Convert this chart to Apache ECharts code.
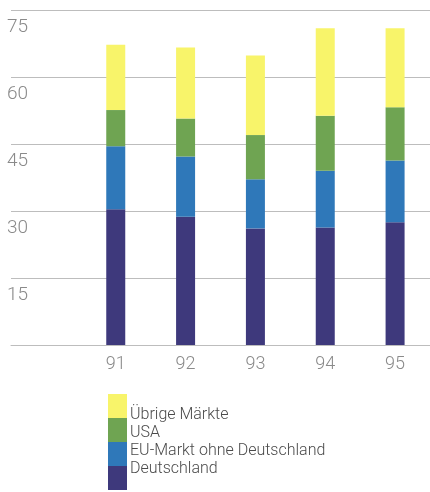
<!DOCTYPE html>
<html><head><meta charset="utf-8">
<script src="https://cdn.jsdelivr.net/npm/echarts@6/dist/echarts.min.js"></script>
<style>html,body{margin:0;padding:0;background:#fff;}#c{width:430px;height:492px;}</style>
</head><body><div id="c"></div>
<script>
var categories = ['91', '92', '93', '94', '95'];
var deutschland = [30.4, 28.7, 26.1, 26.3, 27.5];
var euOhneDeutschland = [14.1, 13.5, 11.0, 12.7, 13.8];
var usa = [8.1, 8.5, 9.9, 12.3, 11.9];
var uebrige = [14.6, 15.9, 17.8, 19.6, 17.7];
var yTicks = [0, 15, 30, 45, 60, 75];
var seriesNames = ['Deutschland', 'EU-Markt ohne Deutschland', 'USA', 'Übrige Märkte'];
var seriesColors = ['#3e397c', '#2f78b9', '#6fa452', '#f8f46a'];
var seriesData = [deutschland, euOhneDeutschland, usa, uebrige];

var axisCats = [''].concat(categories);
var font = 'Roboto, "Open Sans", sans-serif';
var legendOrder = seriesNames.slice().reverse();
var chart = echarts.init(document.getElementById('c'), null, {renderer: 'canvas'});
chart.setOption({
  animation: false,
  grid: {left: 11, top: 10, width: 424, bottom: 147, containLabel: false},
  legend: [{
    orient: 'vertical', left: 108, top: 394, padding: 0,
    itemWidth: 19, itemHeight: 24, itemGap: 0,
    icon: 'rect', data: legendOrder,
    formatter: function () { return ''; },
    textStyle: {fontSize: 1, padding: 0}
  }, {
    orient: 'vertical', left: 125, top: 406, padding: 0,
    itemWidth: 0, itemHeight: 18, itemGap: 0,
    icon: 'rect', data: legendOrder,
    textStyle: {fontFamily: font, fontSize: 16, color: '#4a4a4a', fontWeight: 300, lineHeight: 18, padding: 0}
  }],
  xAxis: {
    type: 'category', data: axisCats,
    axisLine: {show: true, lineStyle: {color: '#bdbdbd', width: 1}},
    axisTick: {show: false},
    axisLabel: {fontFamily: font, fontSize: 18, fontWeight: 300, color: '#8a8a8a', margin: 10}
  },
  yAxis: {
    type: 'value', min: yTicks[0], max: yTicks[yTicks.length - 1], interval: yTicks[1] - yTicks[0],
    axisLine: {show: false}, axisTick: {show: false},
    splitLine: {show: true, lineStyle: {color: '#bdbdbd', width: 1}},
    axisLabel: {
      inside: true, margin: -4, verticalAlign: 'top', padding: [8, 0, 0, 0],
      fontFamily: font, fontSize: 19, fontWeight: 300, color: '#8a8a8a',
      formatter: function (v) { return v === 0 ? '' : String(v); }
    }
  },
  series: seriesNames.map(function (n, i) {
    return {
      name: n, type: 'bar', stack: 'total', barWidth: 19,
      itemStyle: {color: seriesColors[i]},
      data: [null].concat(seriesData[i])
    };
  })
});
</script></body></html>
